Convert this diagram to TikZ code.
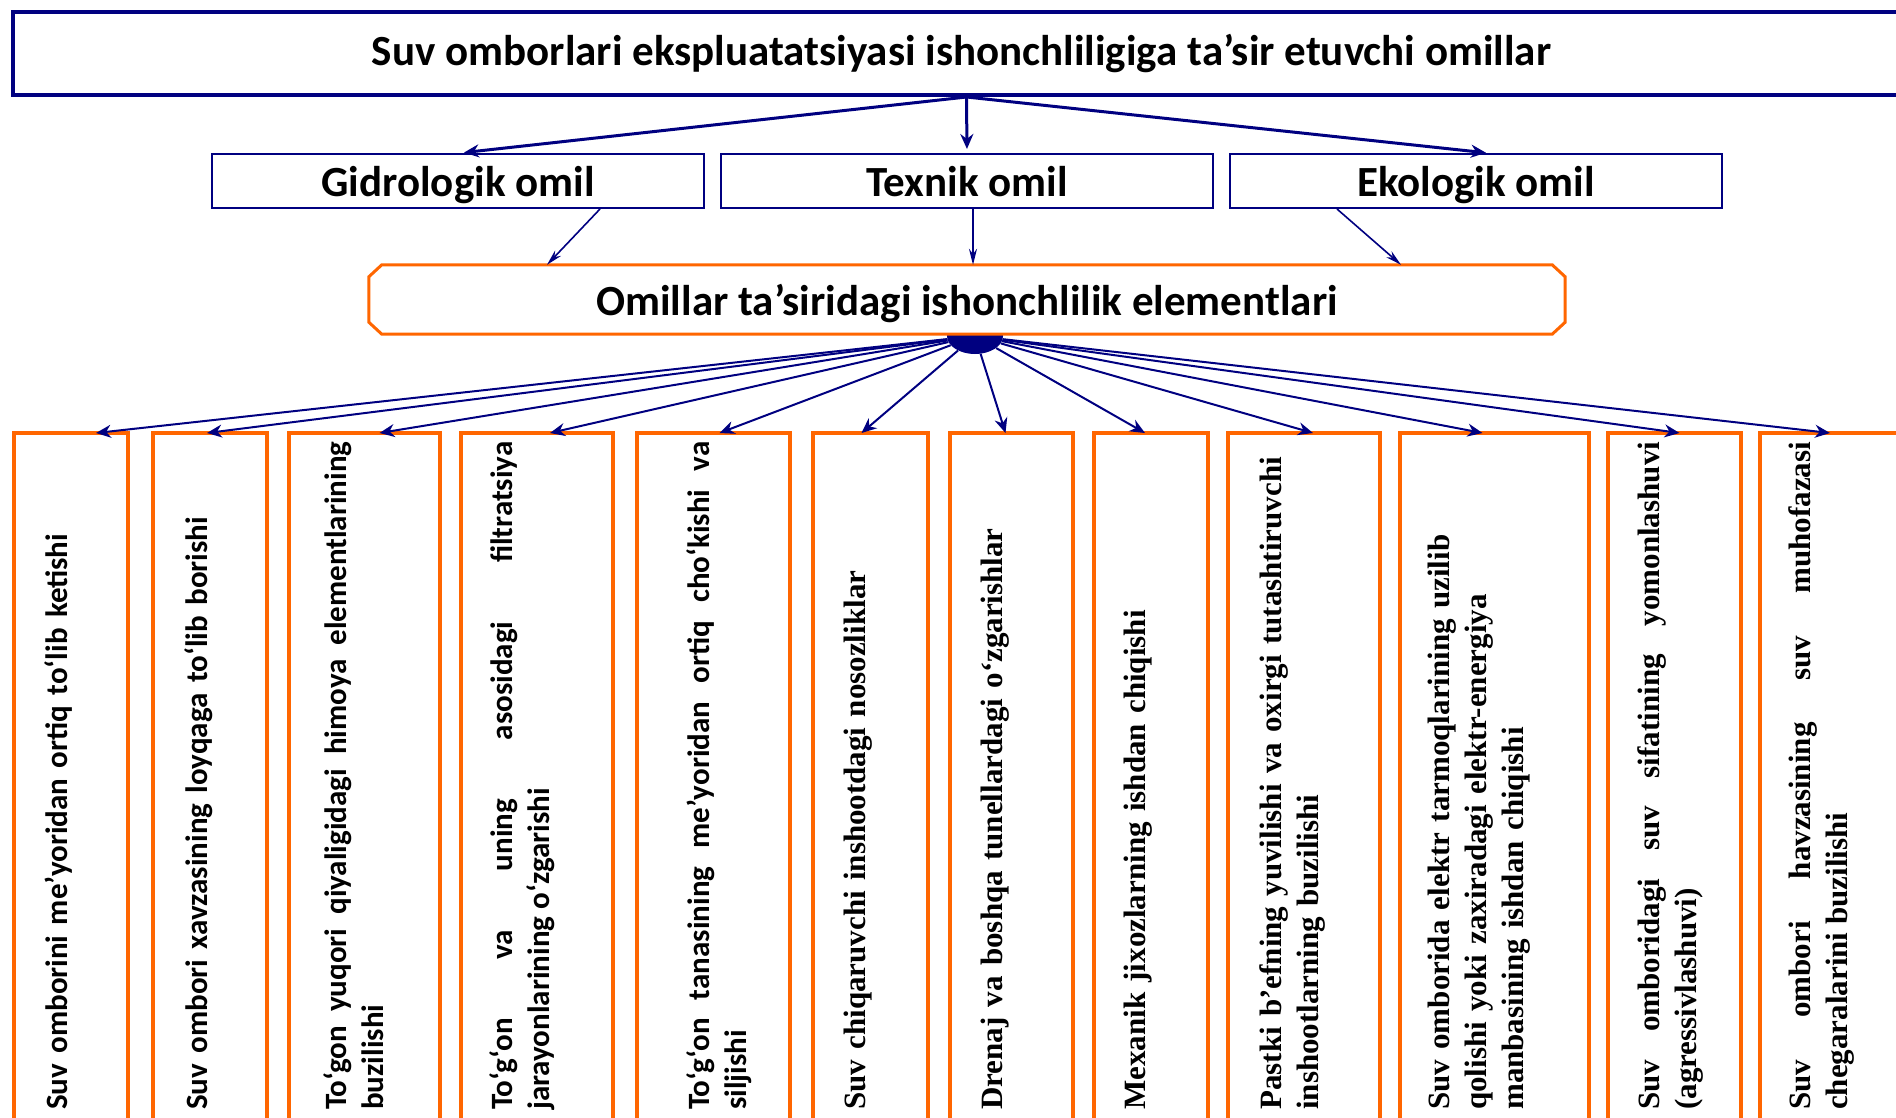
\documentclass[tikz,border=0pt]{standalone}
\usepackage{fontspec}
\setmainfont{Carlito}
\newfontfamily\cbfont{Carlito}
\newfontfamily\tmfont{Liberation Serif}
\usetikzlibrary{positioning}
\usetikzlibrary{arrows.meta}
\usetikzlibrary{shapes.geometric}
\definecolor{navyline}{RGB}{0,0,128}
\definecolor{orangeline}{RGB}{255,102,0}
\hyphenpenalty=10000
\exhyphenpenalty=10000

\begin{document}
\begin{tikzpicture}[x=1pt, y=1pt, font=\bfseries, >={Stealth[length=15pt,width=13pt]}]
    \tikzstyle{mainbox}=[draw=navyline, line width=4pt, rectangle, minimum width=1897pt, minimum height=83pt, inner sep=0pt, font=\fontsize{43}{50}\selectfont\bfseries]
    \tikzstyle{factor}=[draw=navyline, line width=2pt, rectangle, minimum width=492pt, minimum height=54pt, inner sep=0pt, text depth=0pt, font=\fontsize{43}{50}\selectfont\bfseries]
    \tikzstyle{element}=[draw=orangeline, line width=3.5pt, rectangle, minimum height=692pt, inner sep=0pt, outer sep=0pt]
    \tikzstyle{vtext}=[rotate=90, anchor=north west, inner sep=0pt, text width=668pt]
    \tikzstyle{sans}=[font=\cbfont\bfseries\fontsize{31}{37}\selectfont]
    \tikzstyle{serif}=[font=\tmfont\bfseries\fontsize{31}{37}\selectfont]
    \tikzstyle{bigarrow}=[->, navyline, line width=3pt]
    \tikzstyle{thinarrow}=[-{Stealth[length=16pt,width=8pt]}, navyline, line width=1.6pt]
    \tikzstyle{spoke}=[->, navyline, line width=2pt]

    \useasboundingbox (0,0) rectangle (1896,-1118);
    \clip (0,0) rectangle (1896,-1118);

    % top level
    \node[mainbox] (title) at (961.5,-53.5) {Suv omborlari ekspluatatsiyasi ishonchliligiga ta’sir etuvchi omillar};

    \node[factor] (texnik) at (967,-181) {Texnik omil};
    \node[factor, left=15pt of texnik] (gidro) {Gidrologik omil};
    \node[factor, right=15pt of texnik] (ekolog) {Ekologik omil};

    \draw[bigarrow, shorten >=4pt] ([xshift=5pt]title.south) -- ([xshift=2pt]gidro.north);
    \draw[bigarrow, shorten >=4pt] ([xshift=5pt]title.south) -- (texnik.north);
    \draw[bigarrow, shorten >=2pt] ([xshift=5pt]title.south) -- ([xshift=12pt]ekolog.north);

    % elements block
    \node[ellipse, fill=navyline, minimum width=56pt, minimum height=36pt, inner sep=0pt] (hub) at (975,-336) {};
    \node[fill=white, minimum width=1196pt, minimum height=69pt, inner sep=0pt, text depth=0pt, font=\fontsize{43}{50}\selectfont\bfseries] (omillar) at (967,-299.5) {Omillar ta’siridagi ishonchlilik elementlari};
    \draw[orangeline, line width=3pt] ([xshift=13pt]omillar.north west) -- ([xshift=-13pt]omillar.north east)
        -- ([yshift=-12pt]omillar.north east) -- ([yshift=12pt]omillar.south east)
        -- ([xshift=-13pt]omillar.south east) -- ([xshift=13pt]omillar.south west)
        -- ([yshift=12pt]omillar.south west) -- ([yshift=-12pt]omillar.north west) -- cycle;

    \draw[thinarrow] ([xshift=142pt]gidro.south) -- ([xshift=-420pt]omillar.north);
    \draw[thinarrow] ([xshift=6pt]texnik.south) -- ([xshift=6pt]omillar.north);
    \draw[thinarrow] ([xshift=-139pt]ekolog.south) -- ([xshift=434pt]omillar.north);

    % bottom row
    \node[element, minimum width=114pt] (b1) at (71,-779) {};
    \node[element, minimum width=114pt, right=25pt of b1] (b2) {};
    \node[element, minimum width=151pt, right=22pt of b2] (b3) {};
    \node[element, minimum width=152pt, right=21pt of b3] (b4) {};
    \node[element, minimum width=153pt, right=24pt of b4] (b5) {};
    \node[element, minimum width=115pt, right=23pt of b5] (b6) {};
    \node[element, minimum width=123pt, right=22pt of b6] (b7) {};
    \node[element, minimum width=114pt, right=21pt of b7] (b8) {};
    \node[element, minimum width=152pt, right=20pt of b8] (b9) {};
    \node[element, minimum width=189pt, right=20pt of b9] (b10) {};
    \node[element, minimum width=133pt, right=19pt of b10] (b11) {};
    \node[element, minimum width=150pt, right=19pt of b11] (b12) {};

    \node[vtext, sans, align=left] (t1) at ([xshift=30pt, yshift=15pt]b1.south west) {Suv omborini me’yoridan ortiq to‘lib ketishi};
    \node[vtext, sans, align=left] (t2) at ([xshift=31pt, yshift=15pt]b2.south west) {Suv ombori xavzasining loyqaga to‘lib borishi};
    \node[vtext, sans, align=justify] (t3) at ([xshift=34pt, yshift=15pt]b3.south west) {To‘gon yuqori qiyaligidagi himoya elementlarining\linebreak buzilishi};
    \node[vtext, sans, align=justify] (t4) at ([xshift=28pt, yshift=15pt]b4.south west) {To‘g‘on va uning asosidagi filtratsiya\linebreak jarayonlarining o‘zgarishi};
    \node[vtext, sans, align=justify] (t5) at ([xshift=49pt, yshift=15pt]b5.south west) {To‘g‘on tanasining me’yoridan ortiq cho‘kishi va\linebreak siljishi};
    \node[vtext, serif, align=left] (t6) at ([xshift=31pt, yshift=15pt]b6.south west) {Suv chiqaruvchi inshootdagi nosozliklar};
    \node[vtext, serif, align=left] (t7) at ([xshift=31pt, yshift=15pt]b7.south west) {Drenaj va boshqa tunellardagi o‘zgarishlar};
    \node[vtext, serif, align=left] (t8) at ([xshift=30pt, yshift=15pt]b8.south west) {Mexanik jixozlarning ishdan chiqishi};
    \node[vtext, serif, align=left] (t9) at ([xshift=31pt, yshift=15pt]b9.south west) {Pastki b’efning yuvilishi va oxirgi tutashtiruvchi\\ inshootlarning buzilishi};
    \node[vtext, serif, align=left] (t10) at ([xshift=28pt, yshift=15pt]b10.south west) {Suv omborida elektr tarmoqlarining uzilib\\ qolishi yoki zaxiradagi elektr-energiya\\ manbasining ishdan chiqishi};
    \node[vtext, serif, align=justify] (t11) at ([xshift=29pt, yshift=15pt]b11.south west) {Suv omboridagi suv sifatining yomonlashuvi\linebreak (agressivlashuvi)};
    \node[vtext, serif, align=justify] (t12) at ([xshift=28pt, yshift=15pt]b12.south west) {Suv ombori havzasining suv muhofazasi\linebreak chegaralarini buzilishi};

    % spokes
    \draw[spoke] (hub) -- ([xshift=25pt]b1.north);
    \draw[spoke] (hub) -- ([xshift=-3pt]b2.north);
    \draw[spoke] (hub) -- ([xshift=15pt]b3.north);
    \draw[spoke] (hub) -- ([xshift=13pt]b4.north);
    \draw[spoke] (hub) -- ([xshift=6pt]b5.north);
    \draw[spoke] (hub) -- ([xshift=-9pt]b6.north);
    \draw[spoke] (hub) -- ([xshift=-6pt]b7.north);
    \draw[spoke] (hub) -- ([xshift=-6pt]b8.north);
    \draw[spoke] (hub) -- ([xshift=9pt]b9.north);
    \draw[spoke] (hub) -- ([xshift=-12pt]b10.north);
    \draw[spoke] (hub) -- ([xshift=5pt]b11.north);
    \draw[spoke] (hub) -- ([xshift=-5pt]b12.north);
\end{tikzpicture}
\end{document}
